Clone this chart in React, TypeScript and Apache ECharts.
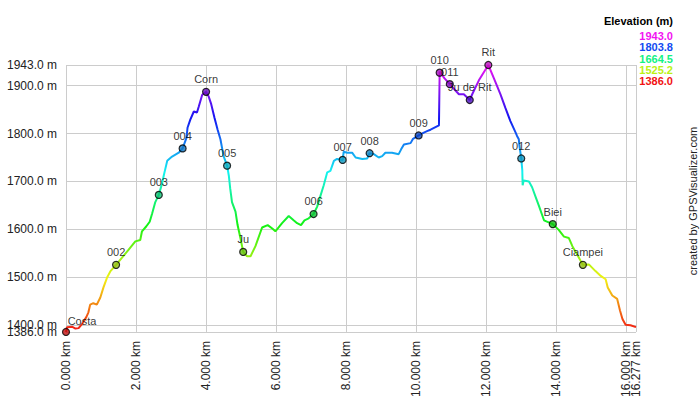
import React, { useEffect, useRef } from "react";
import * as echarts from "echarts";

const distKm = [0, 0.03, 0.17, 0.27, 0.36, 0.46, 0.58, 0.64, 0.69, 0.78, 0.88, 0.98, 1.07, 1.17, 1.27, 1.43, 1.6, 1.79, 1.98, 2.12, 2.17, 2.29, 2.39, 2.46, 2.55, 2.65, 2.74, 2.79, 2.89, 3.03, 3.22, 3.33, 3.44, 3.47, 3.55, 3.65, 3.74, 3.79, 3.89, 4.0, 4.07, 4.14, 4.24, 4.33, 4.41, 4.5, 4.6, 4.65, 4.69, 4.74, 4.84, 4.9, 4.98, 5.06, 5.17, 5.27, 5.41, 5.6, 5.76, 5.89, 5.98, 6.17, 6.36, 6.5, 6.6, 6.71, 6.81, 6.93, 7.07, 7.17, 7.27, 7.36, 7.46, 7.55, 7.65, 7.74, 7.9, 7.93, 8.03, 8.17, 8.27, 8.46, 8.6, 8.67, 8.79, 8.93, 9.03, 9.12, 9.31, 9.5, 9.57, 9.65, 9.84, 9.91, 10.07, 10.22, 10.31, 10.41, 10.65, 10.67, 10.81, 10.96, 11.07, 11.22, 11.36, 11.53, 11.6, 11.79, 12.06, 12.22, 12.41, 12.55, 12.69, 12.84, 12.88, 12.93, 12.95, 13.0, 13.03, 13.04, 13.07, 13.22, 13.31, 13.41, 13.5, 13.65, 13.9, 14.07, 14.22, 14.36, 14.46, 14.6, 14.76, 14.93, 15.12, 15.27, 15.41, 15.47, 15.6, 15.74, 15.82, 15.89, 15.98, 16.12, 16.277];
const elevM = [1386, 1396, 1397, 1393, 1394, 1403, 1417, 1427, 1443, 1446, 1443, 1458, 1479, 1499, 1513, 1526, 1541, 1558, 1575, 1578, 1596, 1606, 1616, 1633, 1657, 1672, 1695, 1712, 1743, 1752, 1760, 1769, 1791, 1812, 1829, 1846, 1844, 1856, 1881, 1887, 1878, 1863, 1833, 1808, 1788, 1753, 1733, 1712, 1685, 1657, 1637, 1609, 1582, 1553, 1544, 1544, 1565, 1604, 1609, 1602, 1596, 1613, 1628, 1619, 1613, 1609, 1619, 1623, 1632, 1647, 1671, 1692, 1719, 1722, 1743, 1747, 1745, 1762, 1760, 1760, 1750, 1747, 1748, 1759, 1757, 1750, 1753, 1760, 1760, 1757, 1767, 1777, 1780, 1789, 1796, 1802, 1805, 1808, 1817, 1929, 1915, 1903, 1894, 1882, 1882, 1870, 1882, 1911, 1943, 1915, 1881, 1853, 1826, 1802, 1795, 1788, 1774, 1748, 1723, 1692, 1702, 1700, 1688, 1668, 1650, 1619, 1611, 1599, 1585, 1582, 1565, 1547, 1526, 1527, 1513, 1503, 1496, 1479, 1462, 1455, 1431, 1413, 1401, 1400, 1396];

const wpNames = ["Costa", "002", "003", "004", "Corn", "005", "Ju", "006", "007", "008", "009", "010", "011", "Ju de Rit", "Rit", "012", "Biei", "Ciampei"];
const wpKm = [0, 1.43, 2.65, 3.33, 4.0, 4.6, 5.06, 7.07, 7.9, 8.67, 10.07, 10.67, 10.96, 11.53, 12.06, 13.0, 13.9, 14.76];
const wpElev = [1386, 1526, 1672, 1769, 1887, 1733, 1553, 1632, 1745, 1759, 1796, 1927, 1903, 1870, 1943, 1748, 1611, 1526];

const xTicks = [0, 2, 4, 6, 8, 10, 12, 14, 16, 16.277];
const yTicks = [1386, 1400, 1500, 1600, 1700, 1800, 1900, 1943];
const legendValues = [1943.0, 1803.8, 1664.5, 1525.2, 1386.0];
const elevMin = 1386;
const elevMax = 1943;

function hsvToHex(h: number, s: number, v: number): string {
  const c = v * s;
  const hp = h / 60;
  const x = c * (1 - Math.abs((hp % 2) - 1));
  let r = 0, g = 0, b = 0;
  if (hp < 1) { r = c; g = x; }
  else if (hp < 2) { r = x; g = c; }
  else if (hp < 3) { g = c; b = x; }
  else if (hp < 4) { g = x; b = c; }
  else if (hp < 5) { r = x; b = c; }
  else { r = c; b = x; }
  const m = v - c;
  const toHex = (n: number) => Math.round((n + m) * 255).toString(16).padStart(2, "0");
  return "#" + toHex(r) + toHex(g) + toHex(b);
}

function colorFor(e: number, v = 0.95): string {
  const t = Math.max(0, Math.min(1, (e - elevMin) / (elevMax - elevMin)));
  return hsvToHex(300 * t, 0.92, v);
}

const FONT = "'Liberation Sans', Arial, sans-serif";

const xLabelBase = {
  rotate: 90,
  margin: 9,
  color: "#222",
  fontSize: 12,
  fontFamily: FONT,
  hideOverlap: false,
  showMinLabel: true,
  showMaxLabel: true,
  formatter: (v: number) => v.toFixed(3) + " km",
};
const yLabelBase = {
  margin: 9,
  color: "#222",
  fontSize: 12,
  fontFamily: FONT,
  hideOverlap: false,
  showMinLabel: true,
  showMaxLabel: true,
  formatter: (v: number) => v.toFixed(1) + " m",
};

export default function App() {
  const ref = useRef<HTMLDivElement>(null);
  useEffect(() => {
    if (!ref.current) return;
    const chart = echarts.init(ref.current, undefined, { renderer: "svg" });
    const stops: string[] = [];
    const darkStops: string[] = [];
    for (let i = 0; i <= 20; i++) {
      const e = elevMin + (i * (elevMax - elevMin)) / 20;
      stops.push(colorFor(e));
      darkStops.push(colorFor(e, 0.75));
    }

    const lineData = distKm.map((d, i) => [d, elevM[i]]);
    const wpData = wpNames.map((n, i) => ({
      name: n,
      value: [wpKm[i], wpElev[i]],
      ...(i === 0 ? { label: { offset: [16, 2] } } : {}),
    }));

    const graphic: any[] = [
      {
        type: "text",
        x: 673,
        y: 21,
        style: { text: "Elevation (m)", fill: "#000", fontSize: 11, fontWeight: "bold", fontFamily: FONT, align: "right", verticalAlign: "middle" },
      },
      ...legendValues.map((v, i) => ({
        type: "text",
        x: 673,
        y: 36 + i * 11.3,
        style: { text: v.toFixed(1), fill: colorFor(v), fontSize: 11, fontWeight: "bold", fontFamily: FONT, align: "right", verticalAlign: "middle" },
      })),
      {
        type: "text",
        x: 693,
        y: 201,
        rotation: Math.PI / 2,
        style: { text: "created by GPSVisualizer.com", fill: "#222", fontSize: 11, fontFamily: FONT, align: "center", verticalAlign: "middle" },
      },
    ];

    const xMain = xTicks.slice(0, -1);
    const xExtra = xTicks.slice(-1);
    const yMain = yTicks.slice(1);
    const yExtra = yTicks.slice(0, 1);

    chart.setOption({
      animation: false,
      backgroundColor: "#fff",
      grid: { left: 66, right: 64, top: 65, bottom: 65 },
      xAxis: [
        {
          type: "value",
          position: "bottom",
          min: 0,
          max: xTicks[xTicks.length - 1],
          axisLine: { show: false },
          axisTick: { show: false, customValues: xTicks },
          splitLine: { show: true, lineStyle: { color: "#cccccc", width: 1 } },
          axisLabel: { ...xLabelBase, customValues: xMain },
        },
        {
          type: "value",
          position: "bottom",
          offset: 0,
          min: 0,
          max: xTicks[xTicks.length - 1],
          axisLine: { show: false },
          axisTick: { show: false, customValues: xExtra },
          splitLine: { show: false },
          axisLabel: { ...xLabelBase, customValues: xExtra },
        },
      ],
      yAxis: [
        {
          type: "value",
          position: "left",
          min: elevMin,
          max: elevMax,
          axisLine: { show: false },
          axisTick: { show: false, customValues: yTicks },
          splitLine: { show: true, lineStyle: { color: "#cccccc", width: 1 } },
          axisLabel: { ...yLabelBase, customValues: yMain },
        },
        {
          type: "value",
          position: "left",
          offset: 0,
          min: elevMin,
          max: elevMax,
          axisLine: { show: false },
          axisTick: { show: false, customValues: yExtra },
          splitLine: { show: false },
          axisLabel: { ...yLabelBase, customValues: yExtra },
        },
      ],
      visualMap: [
        {
          type: "continuous",
          show: false,
          dimension: 1,
          min: elevMin,
          max: elevMax,
          seriesIndex: 0,
          inRange: { color: stops },
        },
        {
          type: "continuous",
          show: false,
          dimension: 1,
          min: elevMin,
          max: elevMax,
          seriesIndex: 1,
          inRange: { color: darkStops },
        },
      ],
      graphic,
      series: [
        {
          type: "line",
          data: lineData,
          showSymbol: false,
          symbol: "none",
          lineStyle: { width: 2 },
          z: 2,
        },
        {
          type: "scatter",
          data: wpData,
          symbol: "circle",
          symbolSize: 7,
          itemStyle: { borderColor: "#000", borderWidth: 1.2 },
          label: {
            show: true,
            position: "top",
            distance: 3,
            color: "#000",
            fontSize: 11,
            fontFamily: FONT,
            formatter: (p: any) => p.name,
          },
          z: 3,
        },
      ],
    });
    return () => chart.dispose();
  }, []);
  return <div ref={ref} style={{ position: "fixed", left: 0, top: 0, width: 700, height: 400 }} />;
}
